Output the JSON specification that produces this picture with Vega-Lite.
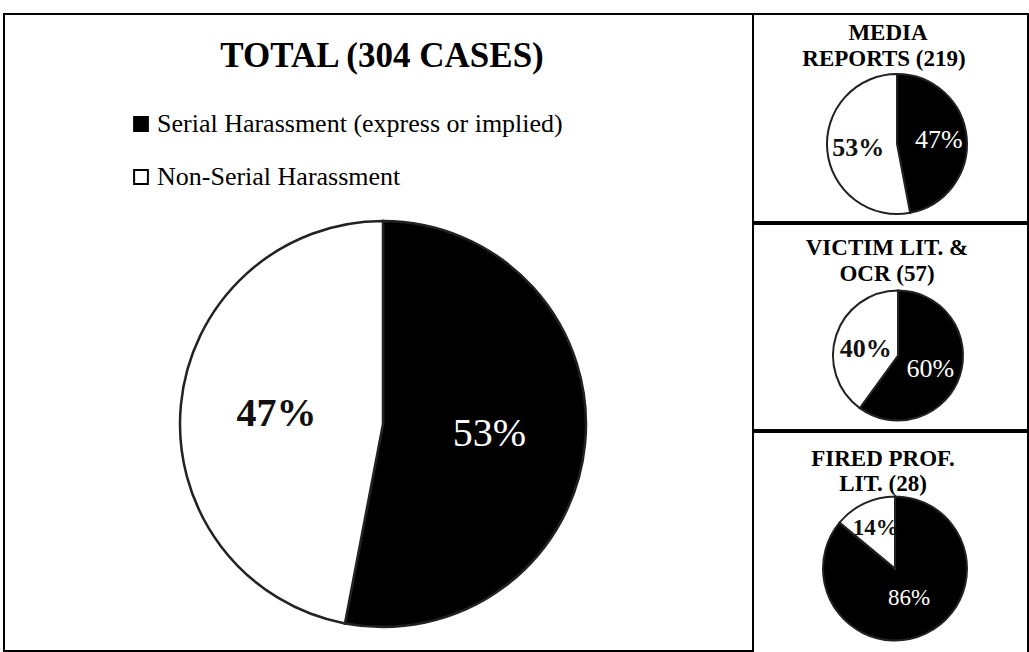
{
  "$schema": "https://vega.github.io/schema/vega-lite/v6.json",
  "padding": {"left": 3, "top": 13, "right": 2, "bottom": 2},
  "background": "white",
  "bounds": "flush",
  "spacing": 0,
  "config": {
    "view": {"stroke": "black", "strokeWidth": 2},
    "concat": {"spacing": 0},
    "font": "Liberation Serif"
  },
  "datasets": {
    "pies": [
      {"pie": "total", "cat": "Serial Harassment (express or implied)", "ord": 1, "value": 53, "label": "53%"},
      {"pie": "total", "cat": "Non-Serial Harassment", "ord": 2, "value": 47, "label": "47%"},
      {"pie": "media", "cat": "Serial Harassment (express or implied)", "ord": 1, "value": 47, "label": "47%"},
      {"pie": "media", "cat": "Non-Serial Harassment", "ord": 2, "value": 53, "label": "53%"},
      {"pie": "victim", "cat": "Serial Harassment (express or implied)", "ord": 1, "value": 60, "label": "60%"},
      {"pie": "victim", "cat": "Non-Serial Harassment", "ord": 2, "value": 40, "label": "40%"},
      {"pie": "fired", "cat": "Serial Harassment (express or implied)", "ord": 1, "value": 86, "label": "86%"},
      {"pie": "fired", "cat": "Non-Serial Harassment", "ord": 2, "value": 14, "label": "14%"}
    ],
    "titles": [
      {"panel": "total", "title": "TOTAL (304 CASES)"},
      {"panel": "media", "title": "MEDIA"},
      {"panel": "media2", "title": "REPORTS (219)"},
      {"panel": "victim", "title": "VICTIM LIT. &"},
      {"panel": "victim2", "title": "OCR (57)"},
      {"panel": "fired", "title": "FIRED PROF."},
      {"panel": "fired2", "title": "LIT. (28)"}
    ]
  },
  "hconcat": [
    {
      "width": 749,
      "height": 637,
      "view": {"stroke": "black", "strokeWidth": 2},
      "layer": [
        {
          "data": {"name": "pies"},
          "transform": [{"filter": "datum.pie == 'total'"}],
          "encoding": {
            "theta": {"field": "value", "type": "quantitative", "stack": true},
            "order": {"field": "ord", "type": "quantitative"}
          },
          "layer": [
            {
              "mark": {"type": "arc", "outerRadius": 203, "stroke": "#222", "strokeWidth": 2.5, "xOffset": 4.5, "yOffset": 91.5},
              "encoding": {
                "color": {
                  "field": "cat", "type": "nominal",
                  "scale": {"domain": ["Serial Harassment (express or implied)", "Non-Serial Harassment"], "range": ["#000000", "#ffffff"]},
                  "legend": {"orient": "none", "legendX": 124, "legendY": 97, "title": null, "labelFont": "Liberation Serif", "labelFontSize": 26, "labelColor": "black", "labelLimit": 0, "labelOffset": 3, "symbolType": "square", "symbolSize": 190, "symbolStrokeColor": "black", "symbolStrokeWidth": 2, "rowPadding": 27}
                }
              }
            },
            {
              "mark": {"type": "text", "radius": 107, "xOffset": 4.5, "yOffset": 91.5, "font": "Liberation Serif", "fontSize": 40, "fontWeight": "bold", "fill": "#111"},
              "encoding": {"text": {"condition": {"test": "datum.cat == 'Non-Serial Harassment'", "field": "label"}, "value": ""}}
            },
            {
              "mark": {"type": "text", "radius": 107, "xOffset": 4.5, "yOffset": 91.5, "font": "Liberation Serif", "fontSize": 40, "fill": "white"},
              "encoding": {"text": {"condition": {"test": "datum.cat != 'Non-Serial Harassment'", "field": "label"}, "value": ""}}
            }
          ]
        },
        {
          "data": {"name": "titles"},
          "transform": [{"filter": "datum.panel == 'total'"}],
          "mark": {"type": "text", "xOffset": 3.5, "yOffset": -276.5, "baseline": "middle", "font": "Liberation Serif", "fontSize": 35, "fontWeight": "bold", "fill": "black"},
          "encoding": {"text": {"field": "title"}}
        }
      ]
    },
    {
      "vconcat": [
        {
          "width": 275,
          "height": 208,
          "view": {"stroke": "black", "strokeWidth": 2},
          "layer": [
            {
              "data": {"name": "pies"},
              "transform": [{"filter": "datum.pie == 'media'"}],
              "encoding": {
                "theta": {"field": "value", "type": "quantitative", "stack": true},
                "order": {"field": "ord", "type": "quantitative"}
              },
              "layer": [
                {
                  "mark": {"type": "arc", "outerRadius": 70, "stroke": "#222", "strokeWidth": 2, "xOffset": 6.5, "yOffset": 26},
                  "encoding": {"color": {"field": "cat", "type": "nominal", "scale": {"domain": ["Serial Harassment (express or implied)", "Non-Serial Harassment"], "range": ["#000000", "#ffffff"]}, "legend": null}}
                },
                {
                  "mark": {"type": "text", "radius": 39, "xOffset": 6.5, "yOffset": 26, "font": "Liberation Serif", "fontSize": 26, "fontWeight": "bold", "fill": "#111"},
                  "encoding": {"text": {"condition": {"test": "datum.cat == 'Non-Serial Harassment'", "field": "label"}, "value": ""}}
                },
                {
                  "mark": {"type": "text", "radius": 42, "xOffset": 6.5, "yOffset": 26, "font": "Liberation Serif", "fontSize": 26, "fill": "white"},
                  "encoding": {"text": {"condition": {"test": "datum.cat != 'Non-Serial Harassment'", "field": "label"}, "value": ""}}
                }
              ]
            },
            {
              "data": {"name": "titles"},
              "transform": [{"filter": "datum.panel == 'media'"}],
              "mark": {"type": "text", "xOffset": -2.5, "yOffset": -85, "baseline": "middle", "font": "Liberation Serif", "fontSize": 23, "fontWeight": "bold", "fill": "black"},
              "encoding": {"text": {"field": "title"}}
            },
            {
              "data": {"name": "titles"},
              "transform": [{"filter": "datum.panel == 'media2'"}],
              "mark": {"type": "text", "xOffset": -6.5, "yOffset": -59, "baseline": "middle", "font": "Liberation Serif", "fontSize": 23, "fontWeight": "bold", "fill": "black"},
              "encoding": {"text": {"field": "title"}}
            }
          ]
        },
        {
          "width": 275,
          "height": 206,
          "view": {"stroke": "black", "strokeWidth": 2},
          "layer": [
            {
              "data": {"name": "pies"},
              "transform": [{"filter": "datum.pie == 'victim'"}],
              "encoding": {
                "theta": {"field": "value", "type": "quantitative", "stack": true},
                "order": {"field": "ord", "type": "quantitative"}
              },
              "layer": [
                {
                  "mark": {"type": "arc", "outerRadius": 65, "stroke": "#222", "strokeWidth": 2, "xOffset": 7.5, "yOffset": 28.5},
                  "encoding": {"color": {"field": "cat", "type": "nominal", "scale": {"domain": ["Serial Harassment (express or implied)", "Non-Serial Harassment"], "range": ["#000000", "#ffffff"]}, "legend": null}}
                },
                {
                  "mark": {"type": "text", "radius": 34, "xOffset": 7.5, "yOffset": 32.5, "font": "Liberation Serif", "fontSize": 26, "fontWeight": "bold", "fill": "#111"},
                  "encoding": {"text": {"condition": {"test": "datum.cat == 'Non-Serial Harassment'", "field": "label"}, "value": ""}}
                },
                {
                  "mark": {"type": "text", "radius": 34, "xOffset": 7.5, "yOffset": 31.5, "font": "Liberation Serif", "fontSize": 26, "fill": "white"},
                  "encoding": {"text": {"condition": {"test": "datum.cat != 'Non-Serial Harassment'", "field": "label"}, "value": ""}}
                }
              ]
            },
            {
              "data": {"name": "titles"},
              "transform": [{"filter": "datum.panel == 'victim'"}],
              "mark": {"type": "text", "xOffset": -3.5, "yOffset": -79, "baseline": "middle", "font": "Liberation Serif", "fontSize": 23, "fontWeight": "bold", "fill": "black"},
              "encoding": {"text": {"field": "title"}}
            },
            {
              "data": {"name": "titles"},
              "transform": [{"filter": "datum.panel == 'victim2'"}],
              "mark": {"type": "text", "xOffset": -3.5, "yOffset": -53, "baseline": "middle", "font": "Liberation Serif", "fontSize": 23, "fontWeight": "bold", "fill": "black"},
              "encoding": {"text": {"field": "title"}}
            }
          ]
        },
        {
          "width": 275,
          "height": 223,
          "view": {"stroke": "black", "strokeWidth": 2},
          "layer": [
            {
              "data": {"name": "pies"},
              "transform": [{"filter": "datum.pie == 'fired'"}],
              "encoding": {
                "theta": {"field": "value", "type": "quantitative", "stack": true},
                "order": {"field": "ord", "type": "quantitative"}
              },
              "layer": [
                {
                  "mark": {"type": "arc", "outerRadius": 72, "stroke": "#222", "strokeWidth": 2, "xOffset": 4.5, "yOffset": 25},
                  "encoding": {"color": {"field": "cat", "type": "nominal", "scale": {"domain": ["Serial Harassment (express or implied)", "Non-Serial Harassment"], "range": ["#000000", "#ffffff"]}, "legend": null}}
                },
                {
                  "mark": {"type": "text", "radius": 45, "xOffset": 4.5, "yOffset": 25, "font": "Liberation Serif", "fontSize": 23, "fontWeight": "bold", "fill": "#111"},
                  "encoding": {"text": {"condition": {"test": "datum.cat == 'Non-Serial Harassment'", "field": "label"}, "value": ""}}
                },
                {
                  "mark": {"type": "text", "radius": 33, "xOffset": 4.5, "yOffset": 25, "font": "Liberation Serif", "fontSize": 23, "fill": "white"},
                  "encoding": {"text": {"condition": {"test": "datum.cat != 'Non-Serial Harassment'", "field": "label"}, "value": ""}}
                }
              ]
            },
            {
              "data": {"name": "titles"},
              "transform": [{"filter": "datum.panel == 'fired'"}],
              "mark": {"type": "text", "xOffset": -7.5, "yOffset": -85, "baseline": "middle", "font": "Liberation Serif", "fontSize": 23, "fontWeight": "bold", "fill": "black"},
              "encoding": {"text": {"field": "title"}}
            },
            {
              "data": {"name": "titles"},
              "transform": [{"filter": "datum.panel == 'fired2'"}],
              "mark": {"type": "text", "xOffset": -7.5, "yOffset": -60, "baseline": "middle", "font": "Liberation Serif", "fontSize": 23, "fontWeight": "bold", "fill": "black"},
              "encoding": {"text": {"field": "title"}}
            }
          ]
        }
      ]
    }
  ]
}
